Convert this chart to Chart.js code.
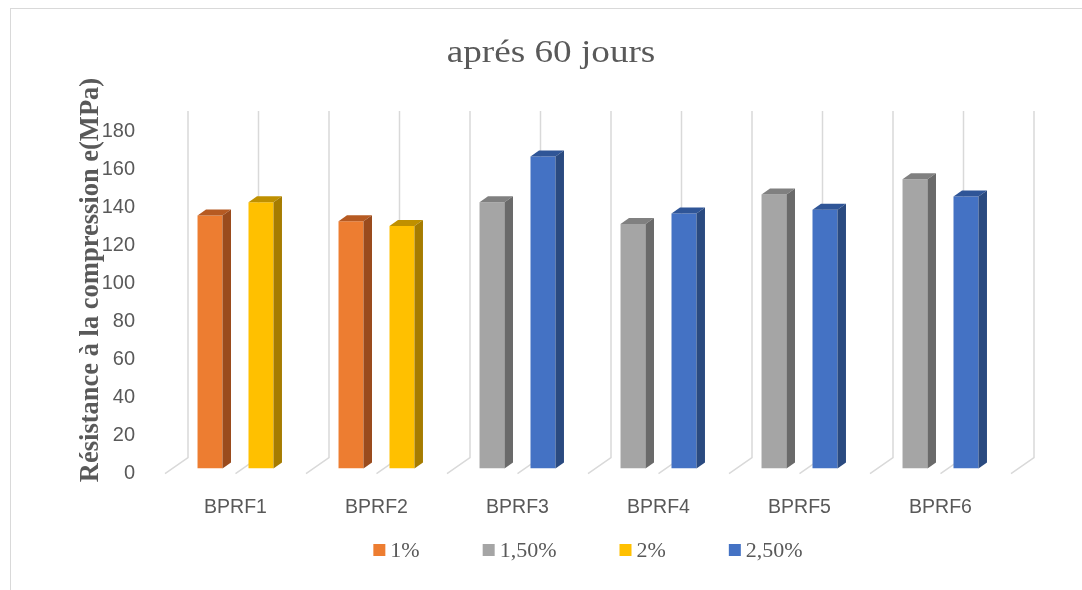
<!DOCTYPE html>
<html lang="fr">
<head>
    <meta charset="UTF-8">
    <title>Résistance à la compression - 60 jours</title>
    <script src="https://cdn.jsdelivr.net/npm/chart.js"></script>
    <style>
        html, body {
            margin: 0;
            padding: 0;
            background: #fff;
            overflow: hidden;
        }
        .chart-box {
            position: absolute;
            left: 10px;
            top: 8px;
            width: 1071px;
            height: 582px;
            border: 1px solid #d9d9d9;
            background: #fff;
        }
    </style>
</head>
<body>
    <div class="chart-box">
        <canvas id="compChart"></canvas>
    </div>

    <script>
        const categories = ['BPRF1', 'BPRF2', 'BPRF3', 'BPRF4', 'BPRF5', 'BPRF6'];
        const seriesNames = ['1%', '1,50%', '2%', '2,50%'];
        const fibre1 = [133, 130, null, null, null, null];
        const fibre150 = [null, null, 140, 128.5, 144, 152];
        const fibre2 = [140, 127.5, null, null, null, null];
        const fibre250 = [null, null, 164, 134, 136, 143];
        const chartTitle = 'aprés 60 jours';
        const axisTitle = 'Résistance à la compression e(MPa)';

        // front / top / side colours for the fake 3D columns
        const faceColors = [
            { front: '#ED7D31', top: '#B65A22', side: '#9A4B1D' },
            { front: '#A5A5A5', top: '#808080', side: '#6A6A6A' },
            { front: '#FFC000', top: '#BF9000', side: '#A67C00' },
            { front: '#4472C4', top: '#2F5597', side: '#2A4A80' }
        ];

        const DX = 8.5, DY = -6;     // column depth
        const WX = 23, WY = -16;     // back wall offset

        // back wall verticals and floor strokes
        const wallPlugin = {
            id: 'wall',
            beforeDatasetsDraw(chart) {
                const { ctx, scales: { x, y } } = chart;
                const step = x.getPixelForValue(1) - x.getPixelForValue(0);
                const floorY = y.getPixelForValue(0) + 5;
                const topY = y.getPixelForValue(y.max) + WY + 1;
                ctx.save();
                ctx.strokeStyle = '#d9d9d9';
                ctx.lineWidth = 1.5;
                for (let i = 0; i <= categories.length * 2; i++) {
                    const fx = x.getPixelForValue(0) - step / 2 + i * step / 2;
                    ctx.beginPath();
                    ctx.moveTo(fx, floorY);
                    ctx.lineTo(fx + WX, floorY + WY);
                    ctx.lineTo(fx + WX, topY);
                    ctx.stroke();
                }
                ctx.restore();
            }
        };

        // top and right faces on every column
        const depthPlugin = {
            id: 'depth',
            afterDatasetsDraw(chart) {
                const { ctx } = chart;
                ctx.save();
                chart.data.datasets.forEach((ds, di) => {
                    const meta = chart.getDatasetMeta(di);
                    meta.data.forEach((bar, i) => {
                        if (ds.data[i] === null) return;
                        const { x, y, base, width } = bar.getProps(['x', 'y', 'base', 'width'], true);
                        const l = x - width / 2, r = x + width / 2;
                        const c = faceColors[di];
                        ctx.fillStyle = c.top;
                        ctx.beginPath();
                        ctx.moveTo(l, y);
                        ctx.lineTo(l + DX, y + DY);
                        ctx.lineTo(r + DX, y + DY);
                        ctx.lineTo(r, y);
                        ctx.closePath();
                        ctx.fill();
                        ctx.fillStyle = c.side;
                        ctx.beginPath();
                        ctx.moveTo(r, y);
                        ctx.lineTo(r + DX, y + DY);
                        ctx.lineTo(r + DX, base + DY);
                        ctx.lineTo(r, base);
                        ctx.closePath();
                        ctx.fill();
                    });
                });
                ctx.restore();
            }
        };

        // chart title, value axis title and legend row
        const textPlugin = {
            id: 'texts',
            afterDraw(chart) {
                const { ctx, chartArea } = chart;
                ctx.save();
                ctx.fillStyle = '#595959';
                ctx.textBaseline = 'middle';

                // title, drawn a little wide
                ctx.save();
                ctx.translate(540, 45);
                ctx.scale(1.2, 1);
                ctx.font = '31px "Liberation Serif"';
                ctx.textAlign = 'center';
                ctx.fillText(chartTitle, 0, 0);
                ctx.restore();

                ctx.save();
                ctx.translate(80, 271);
                ctx.rotate(-Math.PI / 2);
                ctx.font = 'bold 26.5px "Liberation Serif"';
                ctx.textAlign = 'center';
                ctx.fillText(axisTitle, 0, 0);
                ctx.restore();

                // legend
                ctx.font = '22px "Liberation Serif"';
                ctx.textAlign = 'left';
                const box = 12, gap = 5, spacing = 63;
                const widths = chart.data.datasets.map(ds => box + gap + ctx.measureText(ds.label).width);
                const total = widths.reduce((a, b) => a + b, 0) + spacing * (widths.length - 1);
                let lx = (chartArea.left + chartArea.right) / 2 - total / 2;
                const ly = 541;
                chart.data.datasets.forEach((ds, i) => {
                    ctx.fillStyle = ds.backgroundColor;
                    ctx.fillRect(lx, ly - box / 2, box, box);
                    ctx.fillStyle = '#595959';
                    ctx.fillText(ds.label, lx + box + gap, ly + 1);
                    lx += widths[i] + spacing;
                });
                ctx.restore();
            }
        };

        const seriesData = [fibre1, fibre150, fibre2, fibre250];

        const ctx = document.getElementById('compChart').getContext('2d');
        new Chart(ctx, {
            type: 'bar',
            data: {
                labels: categories,
                datasets: seriesNames.map((name, i) => ({
                    label: name,
                    data: seriesData[i],
                    backgroundColor: faceColors[i].front,
                    borderWidth: 0,
                    skipNull: true,
                    categoryPercentage: 0.723,
                    barPercentage: 0.49
                }))
            },
            options: {
                responsive: true,
                maintainAspectRatio: false,
                animation: false,
                layout: {
                    padding: { left: 80, right: 71, top: 117, bottom: 53 }
                },
                plugins: {
                    title: { display: false },
                    legend: { display: false },
                    tooltip: { enabled: false }
                },
                scales: {
                    x: {
                        grid: { display: false },
                        border: { display: false },
                        ticks: {
                            color: '#595959',
                            font: { family: 'Liberation Sans', size: 19.5 },
                            padding: 19
                        }
                    },
                    y: {
                        min: 0,
                        max: 180,
                        grid: { display: false },
                        border: { display: false },
                        ticks: {
                            stepSize: 20,
                            color: '#595959',
                            font: { family: 'Liberation Sans', size: 20 },
                            padding: 22,
                            labelOffset: 5
                        },
                        afterFit(scale) { scale.width = 74; }
                    }
                }
            },
            plugins: [wallPlugin, depthPlugin, textPlugin]
        });
    </script>
</body>
</html>
